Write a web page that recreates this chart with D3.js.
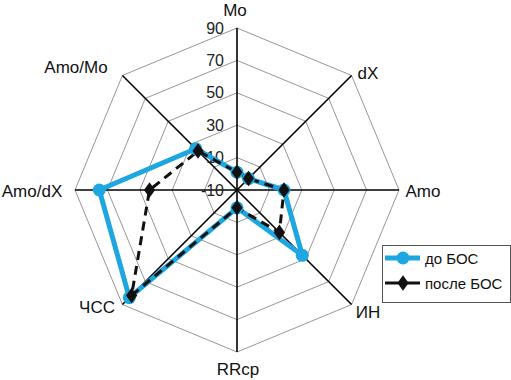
<!DOCTYPE html>
<html><head><meta charset="utf-8">
<script src="https://cdn.jsdelivr.net/npm/d3@7"></script>
<style>body{margin:0;background:#fff}svg{display:block;font-family:Arial,"Liberation Sans",sans-serif}</style>
</head><body>
<svg id="c" width="511" height="380"></svg>
<script>
const categories = ["Mo","dX","Amo","ИН","RRср","ЧСС","Amo/dX","Amo/Mo"];
const seriesNames = ["до БОС","после БОС"];
const before = [1, 0, 19, 47, 1, 84, 75, 26];
const after  = [1, 0, 19, 27, 1, 82, 44, 24];
const ticks = [-10, 10, 30, 50, 70, 90];

const svg = d3.select("#c");
const cx = 237, cy = 190, R = 162;
const r = d3.scaleLinear().domain([-10, 90]).range([0, R]);
const ang = d3.scaleBand().domain(categories).range([0, 2*Math.PI]).align(0).paddingInner(0).paddingOuter(0);
const a = c => ang(c);
const pt = (c, v) => [cx + r(v)*Math.sin(a(c)), cy - r(v)*Math.cos(a(c))];

const g = svg.append("g");
// grid rings
ticks.slice(1).forEach(t => {
  g.append("path")
    .attr("d", d3.line()(categories.map(c => pt(c, t))) + "Z")
    .attr("fill","none").attr("stroke","#8a8a8a").attr("stroke-width",0.9);
});
// axes
categories.forEach(c => {
  const p = pt(c, 90);
  g.append("line").attr("x1",cx).attr("y1",cy).attr("x2",p[0]).attr("y2",p[1])
    .attr("stroke","#000").attr("stroke-width",1.6);
});
// tick labels
ticks.forEach(t => {
  g.append("text").attr("x", cx - 13).attr("y", cy - r(t) + 5.5)
    .attr("text-anchor","end").attr("font-size",16).attr("fill","#222").text(t);
});
// category labels
const labelPos = {"Mo":[235,16],"dX":[368,79],"Amo":[423,197],"ИН":[368,318],
  "RRср":[238,375],"ЧСС":[97,313],"Amo/dX":[32,197],"Amo/Mo":[76,73]};
categories.forEach(c => {
  const lp = labelPos[c];
  g.append("text").attr("x",lp[0]).attr("y",lp[1]).attr("text-anchor","middle")
    .attr("font-size",17).attr("fill","#111").text(c);
});
const blue = "#1ea6e0";
const line = d3.line();
// blue series
g.append("path").attr("d", line(categories.map((c,i)=>pt(c,before[i]))) + "Z")
  .attr("fill","none").attr("stroke",blue).attr("stroke-width",5).attr("stroke-linejoin","round");
// black dashed series
g.append("path").attr("d", line(categories.map((c,i)=>pt(c,after[i]))) + "Z")
  .attr("fill","none").attr("stroke","#111").attr("stroke-width",3).attr("stroke-dasharray","9,6");
categories.forEach((c,i) => {
  const p = pt(c, before[i]);
  g.append("circle").attr("cx",p[0]).attr("cy",p[1]).attr("r",6.5).attr("fill",blue);
});
const diamond = d3.symbol().type(d3.symbolDiamond).size(70);
categories.forEach((c,i) => {
  const p = pt(c, after[i]);
  g.append("path").attr("d", diamond()).attr("transform",`translate(${p[0]},${p[1]}) scale(1.25,1)`).attr("fill","#111");
});
// legend
const lg = svg.append("g");
lg.append("rect").attr("x",382.5).attr("y",245.5).attr("width",128).attr("height",57)
  .attr("fill","#fff").attr("stroke","#555").attr("stroke-width",1);
[[blue,"circle"],["#111","diamond"]].forEach((s,i) => {
  const y = 258 + i*25;
  lg.append("line").attr("x1",385).attr("x2",420).attr("y1",y).attr("y2",y)
    .attr("stroke",s[0]).attr("stroke-width", i===0?5:3);
  if (i===0) lg.append("circle").attr("cx",403).attr("cy",y).attr("r",6.5).attr("fill",blue);
  else lg.append("path").attr("d",diamond()).attr("transform",`translate(403,${y}) scale(1.25,1)`).attr("fill","#111");
  lg.append("text").attr("x",425).attr("y",y+6).attr("font-size",15).attr("fill","#111").text(seriesNames[i]);
});
</script>
</body></html>
